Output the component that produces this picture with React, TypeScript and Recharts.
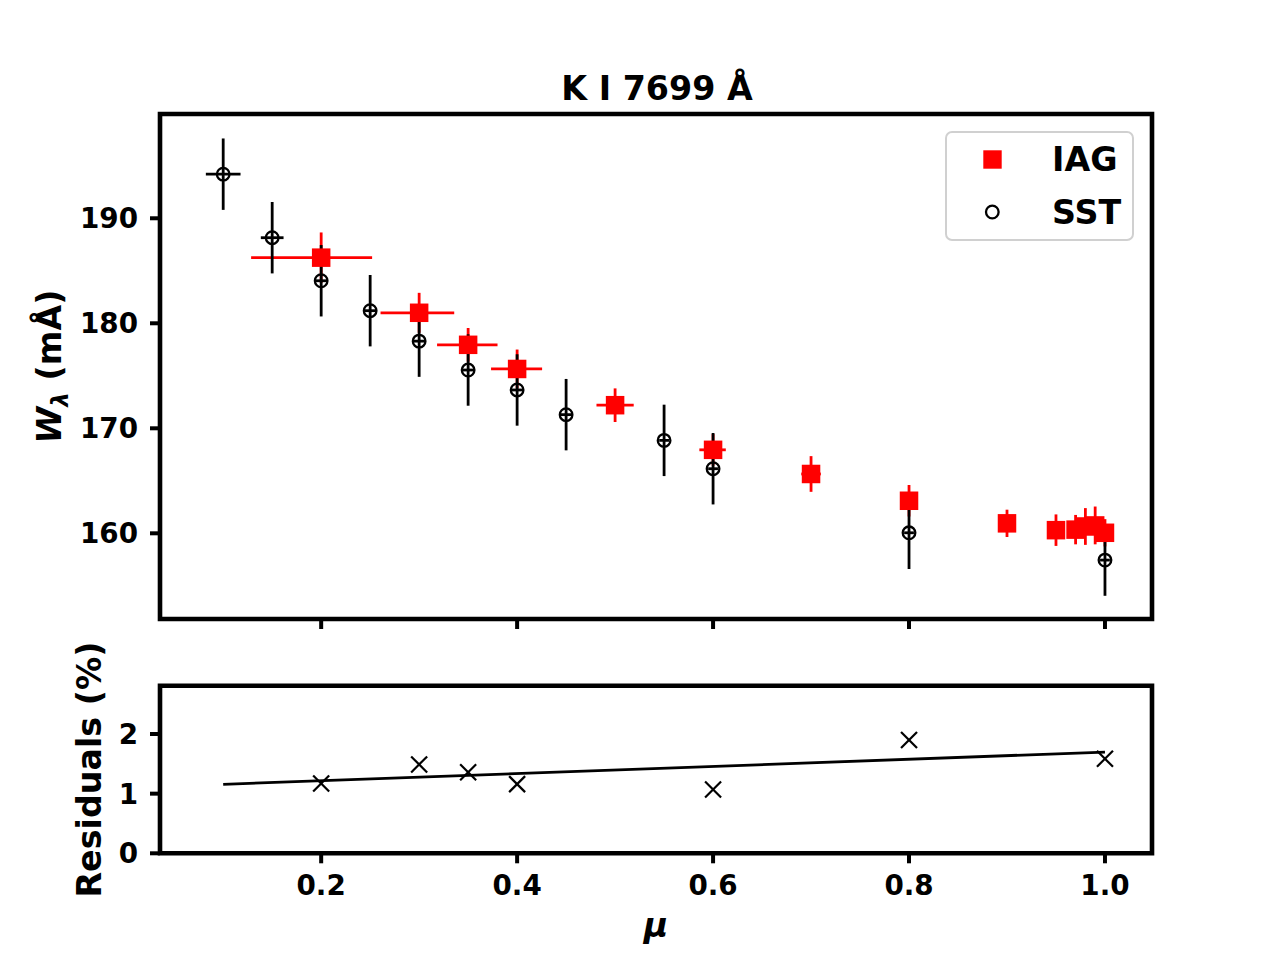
import React from 'react';
import { ScatterChart, Scatter, XAxis, YAxis, ErrorBar, ReferenceArea, Legend, Label } from 'recharts';

const FONT = 'DejaVu Sans';

// ---- SST (black open circles) ----
const SST_MU = [0.1, 0.15, 0.2, 0.25, 0.3, 0.35, 0.4, 0.45, 0.55, 0.6, 0.8, 1.0];
const SST_W = [194.2, 188.15, 184.05, 181.2, 178.3, 175.55, 173.65, 171.3, 168.85, 166.15, 160.05, 157.45];
const SST_W_ERR = [3.4, 3.4, 3.4, 3.4, 3.4, 3.4, 3.4, 3.4, 3.4, 3.4, 3.45, 3.4];
const SST_MU_ERR = [0.0177, 0.0116, 0.006, 0.006, 0.006, 0.006, 0.006, 0.006, 0.005, 0.005, 0.005, 0.005];

// ---- IAG (red filled squares) ----
const IAG_MU = [0.2, 0.3, 0.35, 0.4, 0.5, 0.6, 0.7, 0.8, 0.9, 0.95, 0.97, 0.98, 0.99, 1.0];
const IAG_W = [186.25, 181.0, 177.95, 175.65, 172.2, 167.95, 165.65, 163.1, 160.95, 160.3, 160.35, 160.65, 160.75, 160.05];
const IAG_W_ERR = [2.4, 1.9, 1.6, 1.85, 1.6, 1.5, 1.7, 1.5, 1.3, 1.5, 1.4, 1.75, 1.8, 1.3];
const IAG_MU_ERR_LOW = [0.0715, 0.0394, 0.0317, 0.0266, 0.019, 0.014, 0.01, 0.005, 0.005, 0.005, 0.005, 0.005, 0.005, 0.005];
const IAG_MU_ERR_HIGH = [0.052, 0.0358, 0.03, 0.0255, 0.019, 0.013, 0.01, 0.005, 0.005, 0.005, 0.005, 0.005, 0.005, 0.005];

// ---- Residuals ----
const RES_MU = [0.2, 0.3, 0.35, 0.4, 0.6, 0.8, 1.0];
const RES_VAL = [1.17, 1.49, 1.36, 1.16, 1.07, 1.9, 1.585];
const FIT_MU = [0.1, 1.0];
const FIT_VAL = [1.156, 1.697];

// ---- Axes ----
const X_DOMAIN = [0.0355, 1.048];
const X_TICKS = [0.2, 0.4, 0.6, 0.8, 1.0];
const TOP_Y_DOMAIN = [151.84, 199.93];
const TOP_Y_TICKS = [160, 170, 180, 190];
const BOT_Y_DOMAIN = [0, 2.81];
const BOT_Y_TICKS = [0, 1, 2];

const TITLE = 'K I 7699 Å';
const LEGEND_ITEMS = [
  { name: 'IAG', kind: 'square' },
  { name: 'SST', kind: 'circle' },
];

const sstData = SST_MU.map((m, i) => ({ x: m, y: SST_W[i], yerr: SST_W_ERR[i], xerr: SST_MU_ERR[i] }));
const iagData = IAG_MU.map((m, i) => ({
  x: m,
  y: IAG_W[i],
  yerr: IAG_W_ERR[i],
  xerr: [IAG_MU_ERR_LOW[i], IAG_MU_ERR_HIGH[i]],
}));
const resData = RES_MU.map((m, i) => ({ x: m, y: RES_VAL[i] }));
const fitData = FIT_MU.map((m, i) => ({ x: m, y: FIT_VAL[i] }));

const RedSquare = (p: any) =>
  p.cx == null ? <g /> : <rect x={p.cx - 9.25} y={p.cy - 9.25} width={18.5} height={18.5} fill="#ff0000" />;
const OpenCircle = (p: any) =>
  p.cx == null ? <g /> : <circle cx={p.cx} cy={p.cy} r={6.3} fill="none" stroke="#000" strokeWidth={2.3} />;
const XMark = (p: any) =>
  p.cx == null ? (
    <g />
  ) : (
    <g stroke="#000" strokeWidth={2.2}>
      <line x1={p.cx - 8} y1={p.cy - 8} x2={p.cx + 8} y2={p.cy + 8} />
      <line x1={p.cx - 8} y1={p.cy + 8} x2={p.cx + 8} y2={p.cy - 8} />
    </g>
  );
const NoShape = () => <g />;

const tickStyle = { fill: '#000', fontSize: 27.8, fontWeight: 'bold', fontFamily: FONT };
const tickLineStyle = { stroke: '#000', strokeWidth: 4 };

const LegendBox = () => (
  <svg width={190} height={111} style={{ display: 'block' }}>
    <rect x={1} y={1} width={187} height={108} rx={6} ry={6} fill="rgba(255,255,255,0.8)" stroke="#d0d0d0" strokeWidth={2} />
    {LEGEND_ITEMS.map((it, i) => {
      const cy = 28.5 + i * 52.5;
      return (
        <g key={it.name}>
          {it.kind === 'square' ? (
            <rect x={47.5 - 9.2} y={cy - 9.2} width={18.4} height={18.4} fill="#ff0000" />
          ) : (
            <circle cx={47.3} cy={cy} r={6.3} fill="none" stroke="#000" strokeWidth={2.3} />
          )}
          <text x={107} y={cy + 11.5} fontFamily={FONT} fontWeight="bold" fontSize={33.3} fill="#000">
            {it.name}
          </text>
        </g>
      );
    })}
  </svg>
);

const TopYLabel = (props: any) => {
  const vb = props.viewBox || { y: 114, height: 505 };
  const cy = vb.y + vb.height / 2;
  return (
    <text
      transform={`translate(61, ${cy}) rotate(-90)`}
      textAnchor="middle"
      fontFamily={FONT}
      fontWeight="bold"
      fontSize={33.3}
      fill="#000"
    >
      <tspan fontStyle="italic">W</tspan>
      <tspan fontStyle="italic" fontSize={23} dy={7}>λ</tspan>
      <tspan dy={-7}>{'\u00A0(mÅ)'}</tspan>
    </text>
  );
};

const BotYLabel = (props: any) => {
  const vb = props.viewBox || { y: 685.7, height: 167.6 };
  const cy = vb.y + vb.height / 2;
  return (
    <text
      transform={`translate(101, ${cy}) rotate(-90)`}
      textAnchor="middle"
      fontFamily={FONT}
      fontWeight="bold"
      fontSize={33.3}
      fill="#000"
    >
      Residuals (%)
    </text>
  );
};

const XLabel = (props: any) => {
  const vb = props.viewBox || { x: 160, width: 992 };
  const cx = vb.x + vb.width / 2;
  return (
    <text x={cx} y={297} textAnchor="middle" fontFamily={FONT} fontWeight="bold" fontStyle="italic" fontSize={33.3} fill="#000">
      μ
    </text>
  );
};

export default function App() {
  return (
    <div style={{ position: 'absolute', left: 0, top: 0, width: 1280, height: 960, background: '#fff', overflow: 'hidden' }}>
      <svg width={1280} height={120} style={{ position: 'absolute', left: 0, top: 0 }}>
        <text x={657} y={99.5} textAnchor="middle" fontFamily={FONT} fontWeight="bold" fontSize={33.3} fill="#000">
          {TITLE}
        </text>
      </svg>

      <div style={{ position: 'absolute', left: 0, top: 0 }}>
        <ScatterChart width={1280} height={660} margin={{ top: 114, right: 128, bottom: 0, left: 0 }}>
          <XAxis
            type="number"
            dataKey="x"
            domain={X_DOMAIN}
            ticks={X_TICKS}
            allowDataOverflow
            axisLine={false}
            tickLine={tickLineStyle}
            tickSize={10}
            tickFormatter={() => ''}
            height={41}
          />
          <YAxis
            type="number"
            dataKey="y"
            domain={TOP_Y_DOMAIN}
            ticks={TOP_Y_TICKS}
            allowDataOverflow
            axisLine={false}
            tickLine={tickLineStyle}
            tickSize={10}
            tickMargin={12}
            tick={tickStyle}
            width={160}
          >
            <Label content={<TopYLabel />} />
          </YAxis>
          <Scatter name="IAG-err" data={iagData} shape={NoShape} legendType="none" isAnimationActive={false}>
            <ErrorBar dataKey="yerr" direction="y" width={0} stroke="#ff0000" strokeWidth={2.8} />
            <ErrorBar dataKey="xerr" direction="x" width={0} stroke="#ff0000" strokeWidth={2.8} />
          </Scatter>
          <Scatter name="SST-err" data={sstData} shape={NoShape} legendType="none" isAnimationActive={false}>
            <ErrorBar dataKey="yerr" direction="y" width={0} stroke="#000" strokeWidth={2.8} />
            <ErrorBar dataKey="xerr" direction="x" width={0} stroke="#000" strokeWidth={2.8} />
          </Scatter>
          <Scatter name="IAG" data={iagData} shape={RedSquare} fill="#ff0000" isAnimationActive={false} />
          <Scatter name="SST" data={sstData} shape={OpenCircle} fill="#000" isAnimationActive={false} />
          <ReferenceArea
            x1={X_DOMAIN[0]}
            x2={X_DOMAIN[1]}
            y1={TOP_Y_DOMAIN[0]}
            y2={TOP_Y_DOMAIN[1]}
            fill="none"
            fillOpacity={0}
            stroke="#000"
            strokeWidth={4.6}
            ifOverflow="visible"
          />
          <Legend
            layout="vertical"
            align="center"
            verticalAlign="middle"
            content={() => <LegendBox />}
            wrapperStyle={{ left: 945, top: 131, width: 190, height: 111 }}
          />
        </ScatterChart>
      </div>

      <div style={{ position: 'absolute', left: 0, top: 640 }}>
        <ScatterChart width={1280} height={320} margin={{ top: 45.7, right: 128, bottom: 0, left: 0 }}>
          <XAxis
            type="number"
            dataKey="x"
            domain={X_DOMAIN}
            ticks={X_TICKS}
            allowDataOverflow
            axisLine={false}
            tickLine={tickLineStyle}
            tickSize={10}
            tickMargin={12}
            tick={tickStyle}
            tickFormatter={(v: number) => v.toFixed(1)}
            height={106.7}
          >
            <Label content={<XLabel />} />
          </XAxis>
          <YAxis
            type="number"
            dataKey="y"
            domain={BOT_Y_DOMAIN}
            ticks={BOT_Y_TICKS}
            allowDataOverflow
            axisLine={false}
            tickLine={tickLineStyle}
            tickSize={10}
            tickMargin={12}
            tick={tickStyle}
            width={160}
          >
            <Label content={<BotYLabel />} />
          </YAxis>
          <Scatter
            name="fit"
            data={fitData}
            shape={NoShape}
            line={{ stroke: '#000', strokeWidth: 2.8 }}
            lineType="joint"
            legendType="none"
            isAnimationActive={false}
          />
          <Scatter name="residuals" data={resData} shape={XMark} legendType="none" isAnimationActive={false} />
          <ReferenceArea
            x1={X_DOMAIN[0]}
            x2={X_DOMAIN[1]}
            y1={BOT_Y_DOMAIN[0]}
            y2={BOT_Y_DOMAIN[1]}
            fill="none"
            fillOpacity={0}
            stroke="#000"
            strokeWidth={4.6}
            ifOverflow="visible"
          />
        </ScatterChart>
      </div>
    </div>
  );
}
